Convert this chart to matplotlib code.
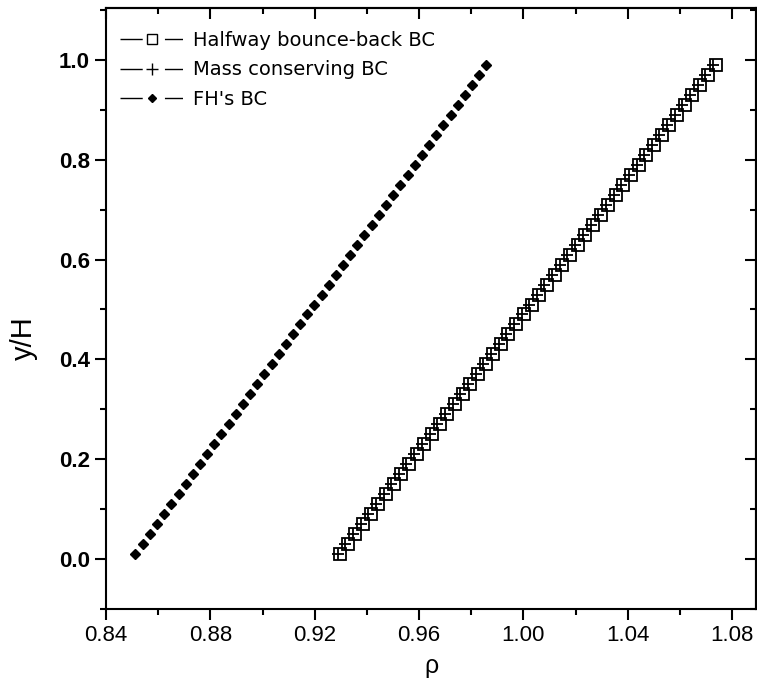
import matplotlib
matplotlib.use('Agg')
import matplotlib.pyplot as plt
from matplotlib.lines import Line2D
from matplotlib.legend_handler import HandlerTuple
from matplotlib.ticker import MultipleLocator

# data
y_h = [0.01, 0.03, 0.05, 0.07, 0.09, 0.11, 0.13, 0.15, 0.17, 0.19,
       0.21, 0.23, 0.25, 0.27, 0.29, 0.31, 0.33, 0.35, 0.37, 0.39,
       0.41, 0.43, 0.45, 0.47, 0.49, 0.51, 0.53, 0.55, 0.57, 0.59,
       0.61, 0.63, 0.65, 0.67, 0.69, 0.71, 0.73, 0.75, 0.77, 0.79,
       0.81, 0.83, 0.85, 0.87, 0.89, 0.91, 0.93, 0.95, 0.97, 0.99]

rho_halfway = [0.9297, 0.9326, 0.9356, 0.9385, 0.9415, 0.9444, 0.9473, 0.9503, 0.9532, 0.9561,
               0.9591, 0.9620, 0.9650, 0.9679, 0.9708, 0.9738, 0.9767, 0.9796, 0.9826, 0.9855,
               0.9885, 0.9914, 0.9943, 0.9973, 1.0002, 1.0032, 1.0061, 1.0090, 1.0120, 1.0149,
               1.0178, 1.0208, 1.0237, 1.0267, 1.0296, 1.0325, 1.0355, 1.0384, 1.0413, 1.0443,
               1.0472, 1.0502, 1.0531, 1.0560, 1.0590, 1.0619, 1.0648, 1.0678, 1.0707, 1.0737]

rho_mass = [0.9288, 0.9317, 0.9347, 0.9376, 0.9406, 0.9435, 0.9464, 0.9494, 0.9523, 0.9552,
            0.9582, 0.9611, 0.9641, 0.9670, 0.9699, 0.9729, 0.9758, 0.9787, 0.9817, 0.9846,
            0.9876, 0.9905, 0.9934, 0.9964, 0.9993, 1.0023, 1.0052, 1.0081, 1.0111, 1.0140,
            1.0169, 1.0199, 1.0228, 1.0258, 1.0287, 1.0316, 1.0346, 1.0375, 1.0404, 1.0434,
            1.0463, 1.0493, 1.0522, 1.0551, 1.0581, 1.0610, 1.0639, 1.0669, 1.0698, 1.0728]

rho_fh = [0.8513, 0.8540, 0.8568, 0.8595, 0.8623, 0.8650, 0.8678, 0.8705, 0.8733, 0.8760,
          0.8788, 0.8815, 0.8842, 0.8870, 0.8897, 0.8925, 0.8952, 0.8980, 0.9007, 0.9035,
          0.9062, 0.9089, 0.9117, 0.9144, 0.9172, 0.9199, 0.9227, 0.9254, 0.9282, 0.9309,
          0.9336, 0.9364, 0.9391, 0.9419, 0.9446, 0.9474, 0.9501, 0.9529, 0.9556, 0.9584,
          0.9611, 0.9638, 0.9666, 0.9693, 0.9721, 0.9748, 0.9776, 0.9803, 0.9831, 0.9858]

labels = ['Halfway bounce-back BC', 'Mass conserving BC', "FH's BC"]
xticks = [0.84, 0.88, 0.92, 0.96, 1.00, 1.04, 1.08]
yticks = [0.0, 0.2, 0.4, 0.6, 0.8, 1.0]

plt.rcParams['font.family'] = ['Liberation Sans', 'DejaVu Sans']
fam = ['Liberation Sans', 'DejaVu Sans']

fig = plt.figure(figsize=(7.57, 6.82), dpi=100)
ax = fig.add_axes([106/757, 73/682, 650/757, 601/682])

ax.plot(rho_halfway, y_h, linestyle='none', marker='s', markersize=9,
        markerfacecolor='none', markeredgecolor='black', markeredgewidth=1.3)
ax.plot(rho_mass, y_h, linestyle='none', marker='+', markersize=9,
        markeredgecolor='black', markeredgewidth=1.3)
ax.plot(rho_fh, y_h, linestyle='none', marker='D', markersize=5,
        markerfacecolor='black', markeredgecolor='black')

ax.set_xlim(0.84, 1.0892)
ax.set_ylim(-0.1, 1.104)
ax.set_xticks(xticks)
ax.set_xticklabels(['%.2f' % v for v in xticks], fontsize=16, family=fam)
ax.set_yticks(yticks)
ax.set_yticklabels(['%.1f' % v for v in yticks], fontsize=16, fontweight='bold', family=fam)
ax.xaxis.set_minor_locator(MultipleLocator(0.02))
ax.yaxis.set_minor_locator(MultipleLocator(0.1))

ax.tick_params(which='both', direction='out', width=1.5)
ax.tick_params(which='major', length=8)
ax.tick_params(which='minor', length=4)

# mirrored ticks on top and right pointing inward
secx = ax.secondary_xaxis('top')
secx.set_xticks(xticks)
secx.xaxis.set_minor_locator(MultipleLocator(0.02))
secx.tick_params(which='both', direction='in', width=1.5, labeltop=False)
secx.tick_params(which='major', length=8)
secx.tick_params(which='minor', length=4)
secy = ax.secondary_yaxis('right')
secy.set_yticks(yticks)
secy.yaxis.set_minor_locator(MultipleLocator(0.1))
secy.tick_params(which='both', direction='in', width=1.5, labelright=False)
secy.tick_params(which='major', length=8)
secy.tick_params(which='minor', length=4)

for s in ax.spines.values():
    s.set_linewidth(1.5)
secx.spines['top'].set_linewidth(1.5)
secy.spines['right'].set_linewidth(1.5)

ax.set_xlabel('ρ', fontsize=18, labelpad=6, family=fam)
ax.set_ylabel('y/H', fontsize=21, family=fam)
ax.yaxis.set_label_coords(-0.105, 0.45)

# legend with gapped line around the marker
gap_style = (0, (16, 16, 13, 100))
def entry(**mk):
    return (Line2D([], [], color='black', lw=1, linestyle=gap_style),
            Line2D([], [], linestyle='none', markeredgecolor='black', **mk))
h1 = entry(marker='s', markersize=7, markerfacecolor='none', markeredgewidth=1)
h2 = entry(marker='+', markersize=8, markeredgewidth=1)
h3 = entry(marker='D', markersize=4.5, markerfacecolor='black')
ax.legend([h1, h2, h3], labels, loc='upper left', frameon=False,
          prop={'family': 'DejaVu Sans', 'size': 14},
          handlelength=3.3, handletextpad=0.45, labelspacing=0.55,
          borderaxespad=0.0, bbox_to_anchor=(0.01, 0.975),
          handler_map={tuple: HandlerTuple(ndivide=1)})

fig.savefig('out.png', dpi=100)
